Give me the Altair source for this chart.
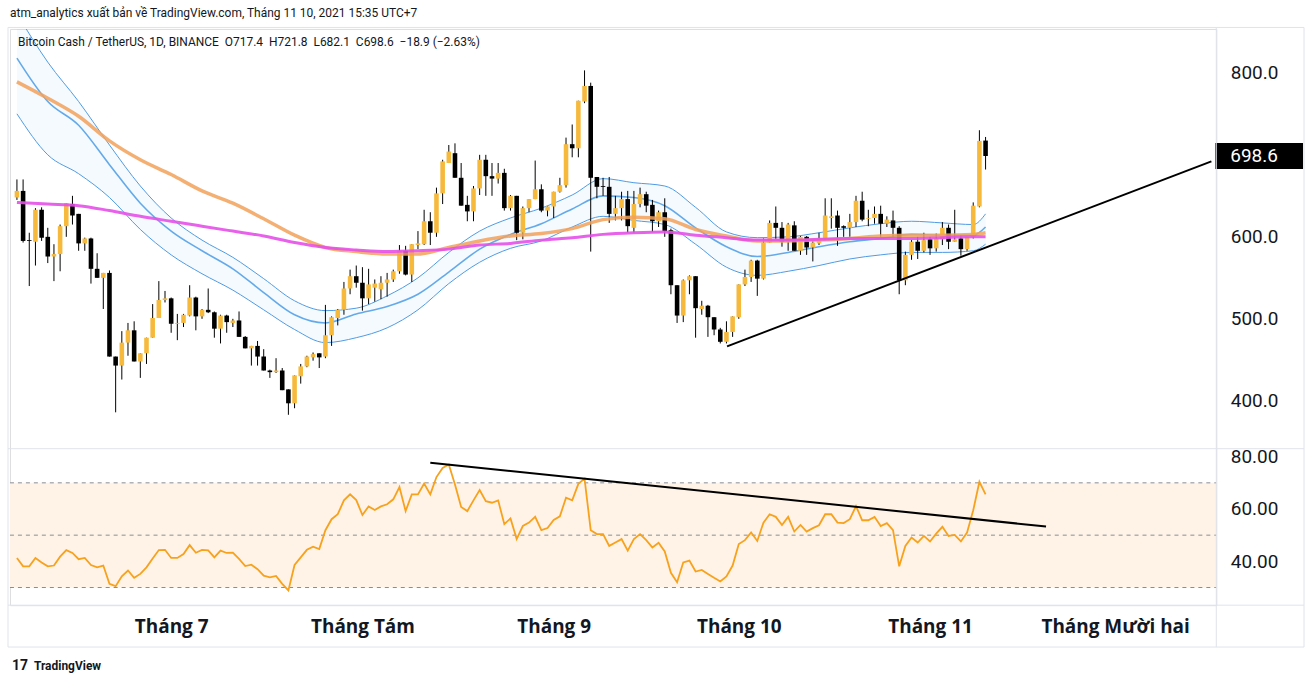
import altair as alt
import pandas as pd

# ---------------- data ----------------
opens = [648, 656, 596, 594, 633, 600, 576, 579, 613, 640, 628, 592, 598, 561, 550, 556, 454, 443, 471, 486,
         448, 458, 477, 501, 523, 525, 494, 495, 504, 526, 503, 511, 508, 488, 504, 495, 498, 478, 464, 467,
         454, 437, 435, 437, 414, 397, 430, 442, 453, 458, 454, 480,
         501, 511, 537, 552, 544, 525, 538, 536, 544, 548, 558, 583, 554, 590, 591, 619, 605, 653,
         690, 702, 672, 639, 631, 659, 694, 674, 671, 678, 635, 650, 605, 635, 646, 658, 632, 637,
         655, 663, 713, 708, 765, 784, 673, 662, 661, 628, 635, 646,
         611, 640, 652, 639, 619, 630, 608, 541, 504, 547, 552, 512, 516, 502, 487, 472, 484, 502,
         542, 551, 571, 549, 593, 617, 611, 594, 614, 583, 600, 587, 592, 598, 623, 626, 613, 611,
         618, 644, 622, 623, 628, 616, 620,
         611, 547, 578, 594, 583, 597, 586, 597, 611, 594, 598, 585, 600, 637, 717.4]
highs = [670, 670, 605, 635, 636, 611, 591, 615, 641, 650, 628, 599, 599, 580, 556, 559, 454, 485, 495, 497,
         458, 477, 518, 546, 534, 526, 506, 506, 541, 527, 512, 537, 509, 505, 505, 500, 509, 479, 467, 473,
         463, 438, 452, 440, 414, 431, 445, 455, 459, 458, 517, 503,
         512, 545, 560, 565, 563, 561, 548, 552, 556, 560, 590, 589, 591, 607, 633, 630, 660, 694,
         712, 714, 690, 650, 662, 700, 700, 690, 690, 683, 651, 650, 637, 646, 693, 664, 637, 655,
         672, 721, 737, 766, 803, 788, 673, 672, 673, 650, 655, 656,
         656, 660, 655, 645, 632, 647, 610, 541, 548, 553, 552, 522, 517, 502, 489, 497, 503, 542,
         560, 572, 572, 598, 620, 637, 618, 617, 619, 601, 601, 595, 605, 647, 647, 632, 614, 628,
         650, 655, 633, 637, 638, 625, 632,
         613, 582, 596, 600, 605, 600, 604, 618, 615, 633, 602, 600, 642, 730, 721.8]
lows = [645, 593, 540, 565, 595, 568, 546, 558, 600, 615, 583, 583, 543, 550, 512, 454, 386, 426, 455, 448,
        428, 445, 477, 501, 520, 483, 474, 490, 503, 486, 500, 507, 477, 470, 483, 490, 478, 464, 443, 443,
        437, 428, 434, 413, 383, 391, 421, 441, 449, 440, 452, 467,
        492, 505, 530, 538, 510, 518, 521, 524, 527, 545, 555, 553, 545, 585, 590, 590, 600, 640,
        690, 672, 638, 619, 619, 651, 650, 650, 665, 632, 632, 596, 597, 630, 646, 630, 625, 623,
        654, 660, 697, 697, 763, 582, 647, 650, 617, 620, 620, 605,
        605, 636, 630, 606, 612, 600, 530, 495, 496, 530, 477, 505, 478, 480, 470, 470, 478, 500,
        540, 545, 528, 548, 593, 597, 588, 583, 583, 578, 578, 570, 590, 596, 610, 589, 600, 600,
        612, 619, 613, 616, 600, 612, 600,
        530, 541, 572, 573, 581, 578, 582, 590, 585, 594, 577, 583, 598, 636, 682.1]
closes = [656, 595, 595, 633, 599, 576, 579, 613, 641, 626, 592, 598, 561, 550, 556, 454, 443, 471, 486, 448,
          458, 477, 501, 523, 525, 494, 495, 505, 526, 503, 511, 508, 488, 504, 496, 498, 478, 464, 467, 454,
          437, 435, 437, 413, 397, 431, 442, 454, 457, 453, 480, 502,
          511, 537, 552, 544, 525, 542, 543, 544, 548, 558, 583, 554, 591, 592, 619, 605, 653, 692,
          704, 672, 638, 631, 659, 694, 674, 671, 678, 635, 650, 605, 635, 646, 658, 632, 637, 655,
          663, 713, 708, 766, 784, 672, 661, 661, 628, 635, 646, 613,
          640, 652, 638, 619, 630, 607, 541, 504, 547, 552, 513, 516, 502, 487, 472, 484, 503, 542,
          551, 571, 549, 593, 617, 611, 594, 615, 583, 600, 587, 593, 598, 626, 625, 611, 611, 618,
          644, 621, 623, 628, 616, 621, 611,
          547, 578, 594, 583, 596, 586, 598, 611, 594, 597, 585, 600, 638, 717, 698.6]

rsi_values = [41.3, 38.1, 38.1, 41.3, 39.6, 38.1, 38.4, 41.8, 44.3, 43.2, 40.8, 41.3, 38.6, 37.7, 38.4,
              31.4, 30.5, 34.3, 36.5, 33.7, 35.2, 37.7, 41.1, 44.3, 44.4, 41.3, 41.3, 42.8, 46.2, 43.3,
              44.4, 44.2, 41.5, 44.1, 43.2, 43.3, 40.9, 38.2, 38.7, 37.0, 34.5, 33.9, 34.4, 31.4, 28.9,
              38.6, 41.5, 44.4, 45.6, 44.7, 51.9, 56.1, 58.0, 63.3, 65.6, 63.4, 57.7, 61.0, 59.6, 61.0,
              61.8, 63.7, 68.4, 59.2, 65.6, 65.6, 69.7, 65.6, 72.2, 75.7, 77.0, 69.4, 60.8, 59.2, 63.3,
              67.2, 63.0, 62.4, 63.3, 54.2, 56.4, 48.5, 53.5, 54.8, 57.0, 51.9, 52.7, 55.8, 57.2, 64.3,
              63.3, 69.6, 71.6, 51.9, 50.4, 50.4, 45.9, 47.2, 48.5, 44.1, 48.5, 50.4, 48.1, 45.3, 47.1,
              43.8, 35.6, 32.0, 39.6, 40.3, 36.1, 36.7, 35.2, 33.7, 32.3, 34.2, 38.4, 46.6, 48.1, 51.0,
              47.8, 54.8, 58.0, 57.0, 53.9, 57.0, 51.4, 53.9, 51.4, 52.7, 53.8, 58.0, 58.0, 54.8, 54.6,
              56.1, 61.1, 55.7, 55.7, 57.0, 53.5, 54.6, 51.9, 38.1, 45.9, 49.1, 47.2, 49.7, 47.6, 50.6,
              53.2, 49.7, 50.1, 47.6, 51.0, 59.5, 70.4, 65.6]

ma_idx = [0, 5, 10, 15, 20, 25, 30, 35, 40, 45, 50, 55, 60, 65, 70, 75, 80, 85, 90, 95, 100, 105, 110,
          115, 120, 125, 130, 135, 140, 145, 150, 155, 157]
ma_orange = [789, 769, 747, 717, 694, 676, 656, 641, 622, 602, 587, 582, 579, 579, 587, 595, 601, 604, 610,
             621, 624, 622, 609, 601, 595, 595, 596, 598, 601, 602, 602, 603, 605]
ma_magenta = [642, 640, 638, 632, 625, 619, 613, 607, 601, 593, 587, 584, 582, 583, 585, 590, 592, 596, 599,
              603, 605, 606, 602, 599, 596, 596, 597, 598, 598, 598, 599, 600, 600]
band_upper = [872, 813, 765, 712, 662, 623, 596, 575, 549, 522, 510, 513, 528, 550, 581, 607, 623, 635, 651,
              671, 666, 662, 636, 606, 599, 600, 605, 611, 616, 619, 617, 615, 628]
band_mid = [818, 765, 736, 688, 641, 607, 583, 561, 532, 505, 495, 506, 515, 530, 557, 585, 603, 616, 634,
            650, 648, 638, 611, 588, 576, 581, 588, 594, 598, 603, 602, 602, 612]
band_lower = [750, 700, 677, 648, 609, 578, 555, 535, 511, 487, 471, 477, 489, 511, 543, 569, 586, 595, 612,
              625, 620, 615, 591, 563, 553, 558, 565, 573, 578, 581, 581, 583, 591]

price_trend_i = [115.1, 193.6]
price_trend_p = [466.5, 692.0]
rsi_trend_i = [67.0, 166.8]
rsi_trend_r = [77.7, 53.3]

month_ticks = [25, 56, 87, 117, 148, 178]
month_labels = ["Tháng 7", "Tháng Tám", "Tháng 9", "Tháng 10", "Tháng 11", "Tháng Mười hai"]
price_ticks = [400, 500, 600, 800]
rsi_ticks = [40, 60, 80]
rsi_levels = [30, 50, 70]
last_close = 698.6

NB = "\u00a0"
header1 = "atm_analytics xuất bản về TradingView.com, Tháng 11 10, 2021 15:35 UTC+7"
header2 = (f"Bitcoin Cash / TetherUS, 1D, BINANCE {NB}O717.4 {NB}H721.8 {NB}L682.1 {NB}C698.6 "
           f"{NB}−18.9 (−2.63%)")

# ---------------- layout / styles ----------------
W, H = 1210, 578
FONT = "Roboto"
XFONT = "Open Sans"
TXT = "#131722"
GRID = "#e0e3eb"
UP = "#f6b93b"
DOWN = "#000000"

n = len(closes)
candles = pd.DataFrame({
    "i": list(range(n)), "open": opens, "high": highs, "low": lows, "close": closes,
})
candles["dir"] = ["up" if c >= o else "down" for o, c in zip(opens, closes)]
ma = pd.DataFrame({"i": ma_idx, "orange": ma_orange, "magenta": ma_magenta,
                   "upper": band_upper, "mid": band_mid, "lower": band_lower})
rsi_df = pd.DataFrame({"i": list(range(n)), "rsi": rsi_values})
ptrend = pd.DataFrame({"i": price_trend_i, "p": price_trend_p})
rtrend = pd.DataFrame({"i": rsi_trend_i, "r": rsi_trend_r})
one = pd.DataFrame({"a": [0]})

xs = alt.Scale(domain=[-0.32, 193.59], nice=False, zero=False)
ps = alt.Scale(domain=[150.8, 853.5], nice=False, zero=False)
rs = alt.Scale(domain=[23.24, 243.43], nice=False, zero=False)

label_expr = "''"
for v, l in reversed(list(zip(month_ticks, month_labels))):
    label_expr = f"datum.value == {v} ? '{l}' : ({label_expr})"

x_axis = alt.Axis(values=month_ticks, labelExpr=label_expr, title=None, grid=False, ticks=False,
                  domain=False, labelFontSize=19, labelFontWeight="bold", labelColor=TXT, labelFont=XFONT,
                  labelPadding=21, labelBaseline="middle", labelFlush=False, labelOverlap=False,
                  orient="bottom")
p_axis = alt.Axis(values=price_ticks, format=".1f", title=None, grid=False, ticks=False, tickSize=0,
                  domain=False, labelFontSize=19, labelColor=TXT, labelFont=FONT, labelPadding=14,
                  orient="right", labelAlign="left", labelOverlap=False, labelFlush=False)
r_axis = alt.Axis(values=rsi_ticks, format=".2f", title=None, grid=False, ticks=False, tickSize=0,
                  domain=False, labelFontSize=19, labelColor=TXT, labelFont=FONT, labelPadding=14,
                  orient="right", labelAlign="left", labelOverlap=False, labelFlush=False)


def X(field="i"):
    return alt.X(f"{field}:Q", scale=xs, axis=x_axis)


def PY(field):
    return alt.Y(f"{field}:Q", scale=ps, axis=p_axis)


def RY(field):
    return alt.Y(f"{field}:Q", scale=rs, axis=r_axis)


# frame that fixes the whole canvas bounds
frame = alt.Chart(one).mark_rect(fill="white", fillOpacity=0).encode(
    x=alt.value(-10), x2=alt.value(1306), y=alt.value(-28), y2=alt.value(657))

# ---------------- price panel ----------------
band_fill = alt.Chart(ma).mark_area(color="#2196f3", opacity=0.05, clip=True, interpolate="monotone").encode(
    x=X(), y=PY("upper"), y2="lower:Q")
band_lines = [
    alt.Chart(ma).mark_line(color=c, strokeWidth=w, clip=True, interpolate="monotone").encode(
        x=X(), y=PY(f))
    for f, c, w in [("upper", "#4f9be3", 1.0), ("lower", "#4f9be3", 1.0), ("mid", "#64aaea", 1.6)]
]
wicks = alt.Chart(candles).mark_rule(color="#000000", strokeWidth=1).encode(
    x=X(), y=PY("low"), y2="high:Q")
bodies = alt.Chart(candles).mark_bar(size=4.6).encode(
    x=X(), y=PY("open"), y2="close:Q",
    color=alt.Color("dir:N", scale=alt.Scale(domain=["up", "down"], range=[UP, DOWN]), legend=None))
orange_line = alt.Chart(ma).mark_line(color="#f2a15a", strokeWidth=3.5, opacity=0.85,
                                      interpolate="monotone", clip=True).encode(
    x=X(), y=PY("orange"))
magenta_line = alt.Chart(ma).mark_line(color="#e650e8", strokeWidth=3, opacity=0.9,
                                       interpolate="monotone", clip=True).encode(
    x=X(), y=PY("magenta"))
p_trend = alt.Chart(ptrend).mark_line(color="#000000", strokeWidth=2).encode(
    x=X(), y=PY("p"))
last_df = pd.DataFrame({"p": [last_close], "t": [f"{last_close:.1f}"]})
last_box = alt.Chart(last_df).mark_rule(color="#000000", strokeWidth=26).encode(
    x=alt.value(1209), x2=alt.value(1297), y=PY("p"))
last_txt = alt.Chart(last_df).mark_text(color="white", fontSize=19, font=FONT, align="left",
                                        baseline="middle").encode(
    x=alt.value(1224), y=PY("p"), text="t:N")

price_layer = alt.layer(band_fill, *band_lines, wicks, bodies, orange_line, magenta_line,
                        p_trend, last_box, last_txt)

# ---------------- RSI panel ----------------
rsi_band_df = pd.DataFrame({"lo": [rsi_levels[0]], "hi": [rsi_levels[2]]})
rsi_band = alt.Chart(rsi_band_df).mark_rect(color="#fef3e6").encode(
    x=alt.value(0), x2=alt.value(W), y=RY("lo"), y2="hi:Q")
rsi_lvl = alt.Chart(pd.DataFrame({"lvl": rsi_levels})).mark_rule(
    color="#8a8d96", strokeDash=[4, 4], strokeWidth=1).encode(
    x=alt.value(0), x2=alt.value(W), y=RY("lvl"))
rsi_line = alt.Chart(rsi_df).mark_line(color="#f7a11d", strokeWidth=1.8).encode(
    x=X(), y=RY("rsi"))
r_trend = alt.Chart(rtrend).mark_line(color="#000000", strokeWidth=2).encode(
    x=X(), y=RY("r"))

rsi_layer = alt.layer(rsi_band, rsi_lvl, rsi_line, r_trend)

# ---------------- decorations ----------------
def hline(y, x1, x2):
    return alt.Chart(one).mark_rule(color=GRID, strokeWidth=1).encode(
        x=alt.value(x1), x2=alt.value(x2), y=alt.value(y))


def vline(x, y1, y2):
    return alt.Chart(one).mark_rule(color=GRID, strokeWidth=1).encode(
        x=alt.value(x), y=alt.value(y1), y2=alt.value(y2))


deco = [
    hline(-1.5, -2, 1298), hline(421, -2, 1298), hline(578, -2, 1298), hline(620, -2, 1298),
    vline(-2, -1.5, 620), vline(1210, -1.5, 620), vline(1298, -1.5, 620),
]

texts = [
    alt.Chart(one).mark_text(text=header1, fontSize=12, font=FONT, color=TXT, align="left",
                             baseline="middle").encode(x=alt.value(0), y=alt.value(-16)),
    alt.Chart(one).mark_text(text=header2, fontSize=12, font=FONT, color=TXT, align="left",
                             baseline="middle").encode(x=alt.value(8), y=alt.value(13)),
    alt.Chart(one).mark_text(text="17", fontSize=14, font=FONT, fontWeight="bold", color=TXT,
                             align="left", baseline="middle").encode(x=alt.value(2), y=alt.value(639)),
    alt.Chart(one).mark_text(text="TradingView", fontSize=12, font=FONT, fontWeight="bold", color=TXT,
                             align="left", baseline="middle").encode(x=alt.value(24), y=alt.value(639)),
]

chart = alt.layer(frame, rsi_layer, price_layer, *deco, *texts).resolve_scale(
    y="independent"
).properties(
    width=W, height=H, padding=0
).configure_view(strokeWidth=0).configure(background="white")

chart.save("out.html", embed_options={"renderer": "svg", "actions": False})
